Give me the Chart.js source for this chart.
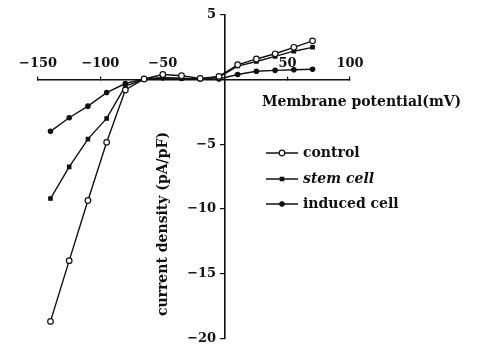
<!DOCTYPE html>
<html>
<head>
<meta charset="utf-8">
<script src="https://cdn.jsdelivr.net/npm/chart.js@4/dist/chart.umd.min.js"></script>
<style>
  html, body { margin: 0; padding: 0; background: #fff; }
  #wrap { width: 480px; height: 349px; }
</style>
</head>
<body>
<div id="wrap"><canvas id="chartIV"></canvas></div>
<script>
// membrane potential (mV) of each step
const voltage = [-140, -125, -110, -95, -80, -65, -50, -35, -20, -5, 10, 25, 40, 55, 70];
// current density (pA/pF)
const control = [-18.7, -14.0, -9.35, -4.85, -0.8, 0.05, 0.4, 0.3, 0.1, 0.25, 1.15, 1.6, 2.0, 2.5, 3.0];
const stemCell = [-9.2, -6.75, -4.6, -3.0, -0.5, 0.0, 0.15, 0.1, 0.05, 0.2, 1.05, 1.4, 1.8, 2.2, 2.5];
const inducedCell = [-4.0, -2.95, -2.05, -1.0, -0.3, 0.05, 0.15, 0.1, 0.05, 0.05, 0.4, 0.65, 0.72, 0.76, 0.8];

const xTicks = [-150, -100, -50, 50, 100];
const yTicks = [5, -5, -10, -15, -20];

const ink = "#111";
const serif = "'DejaVu Serif', 'Liberation Serif', serif";

function toPoints(vals) {
    return voltage.map((v, i) => ({ x: v, y: vals[i] }));
}

function fmt(v) {
    return String(v).replace("-", "\u2212");
}

// axis titles + legend, drawn on top of the chart
const extras = {
    id: "extras",
    afterDraw(chart) {
        const ctx = chart.ctx;
        ctx.save();
        ctx.fillStyle = ink;
        ctx.textBaseline = "middle";

        ctx.font = "bold 14px " + serif;
        ctx.textAlign = "left";
        ctx.fillText("Membrane potential(mV)", 262, 102);

        ctx.save();
        ctx.translate(163, 224);
        ctx.rotate(-Math.PI / 2);
        ctx.textAlign = "center";
        ctx.fillText("current density (pA/pF)", 0, 0);
        ctx.restore();

        // legend
        const rows = [153, 179, 204];
        chart.data.datasets.forEach((ds, i) => {
            const y = rows[i];
            ctx.strokeStyle = ink;
            ctx.lineWidth = 1.5;
            ctx.beginPath();
            ctx.moveTo(266, y);
            ctx.lineTo(298, y);
            ctx.stroke();
            ctx.fillStyle = ds.pointBackgroundColor;
            ctx.lineWidth = 1.2;
            Chart.helpers.drawPoint(ctx, {
                pointStyle: ds.pointStyle,
                radius: ds.pointRadius,
                borderWidth: 1.2
            }, 282, y);
            ctx.fillStyle = ink;
            ctx.font = (i === 1 ? "italic bold 14px " : "bold 14px ") + serif;
            ctx.textAlign = "left";
            ctx.fillText(ds.label, 303, y);
        });
        ctx.restore();
    }
};

const common = {
    showLine: true,
    borderColor: ink,
    borderWidth: 1.4,
    pointBorderColor: ink,
    pointBorderWidth: 1.2,
    tension: 0
};

new Chart(document.getElementById("chartIV"), {
    type: "scatter",
    data: {
        datasets: [
            Object.assign({ label: "control", data: toPoints(control),
                pointStyle: "circle", pointRadius: 2.8, pointBackgroundColor: "#fff" }, common),
            Object.assign({ label: "stem cell", data: toPoints(stemCell),
                pointStyle: "rect", pointRadius: 2.4, pointBackgroundColor: ink }, common),
            Object.assign({ label: "induced cell", data: toPoints(inducedCell),
                pointStyle: "circle", pointRadius: 2.2, pointBackgroundColor: ink }, common)
        ]
    },
    options: {
        responsive: true,
        maintainAspectRatio: false,
        animation: false,
        layout: { padding: { left: 38, right: 130, top: 15, bottom: 9 } },
        plugins: { legend: { display: false }, tooltip: { enabled: false } },
        scales: {
            x: {
                type: "linear",
                min: -150,
                max: 100,
                position: { y: 0 },
                afterBuildTicks: s => { s.ticks = xTicks.map(v => ({ value: v })); },
                afterFit: s => { s.height = 0; },
                ticks: {
                    color: ink,
                    font: { family: serif, size: 13, weight: "bold" },
                    padding: -20,
                    maxRotation: 0,
                    autoSkip: false,
                    callback: v => fmt(v)
                },
                grid: { drawOnChartArea: false, tickLength: -4, color: ink, lineWidth: 1.2 },
                border: { color: ink, width: 1.6 }
            },
            y: {
                type: "linear",
                min: -20,
                max: 5,
                position: { x: 0 },
                afterBuildTicks: s => { s.ticks = yTicks.map(v => ({ value: v })); },
                afterFit: s => { s.width = 0; },
                ticks: {
                    color: ink,
                    font: { family: serif, size: 13, weight: "bold" },
                    autoSkip: false,
                    callback: v => fmt(v) + "  "
                },
                grid: { drawOnChartArea: false, tickLength: 4, color: ink, lineWidth: 1.2 },
                border: { color: ink, width: 1.6 }
            }
        }
    },
    plugins: [extras]
});
</script>
</body>
</html>
